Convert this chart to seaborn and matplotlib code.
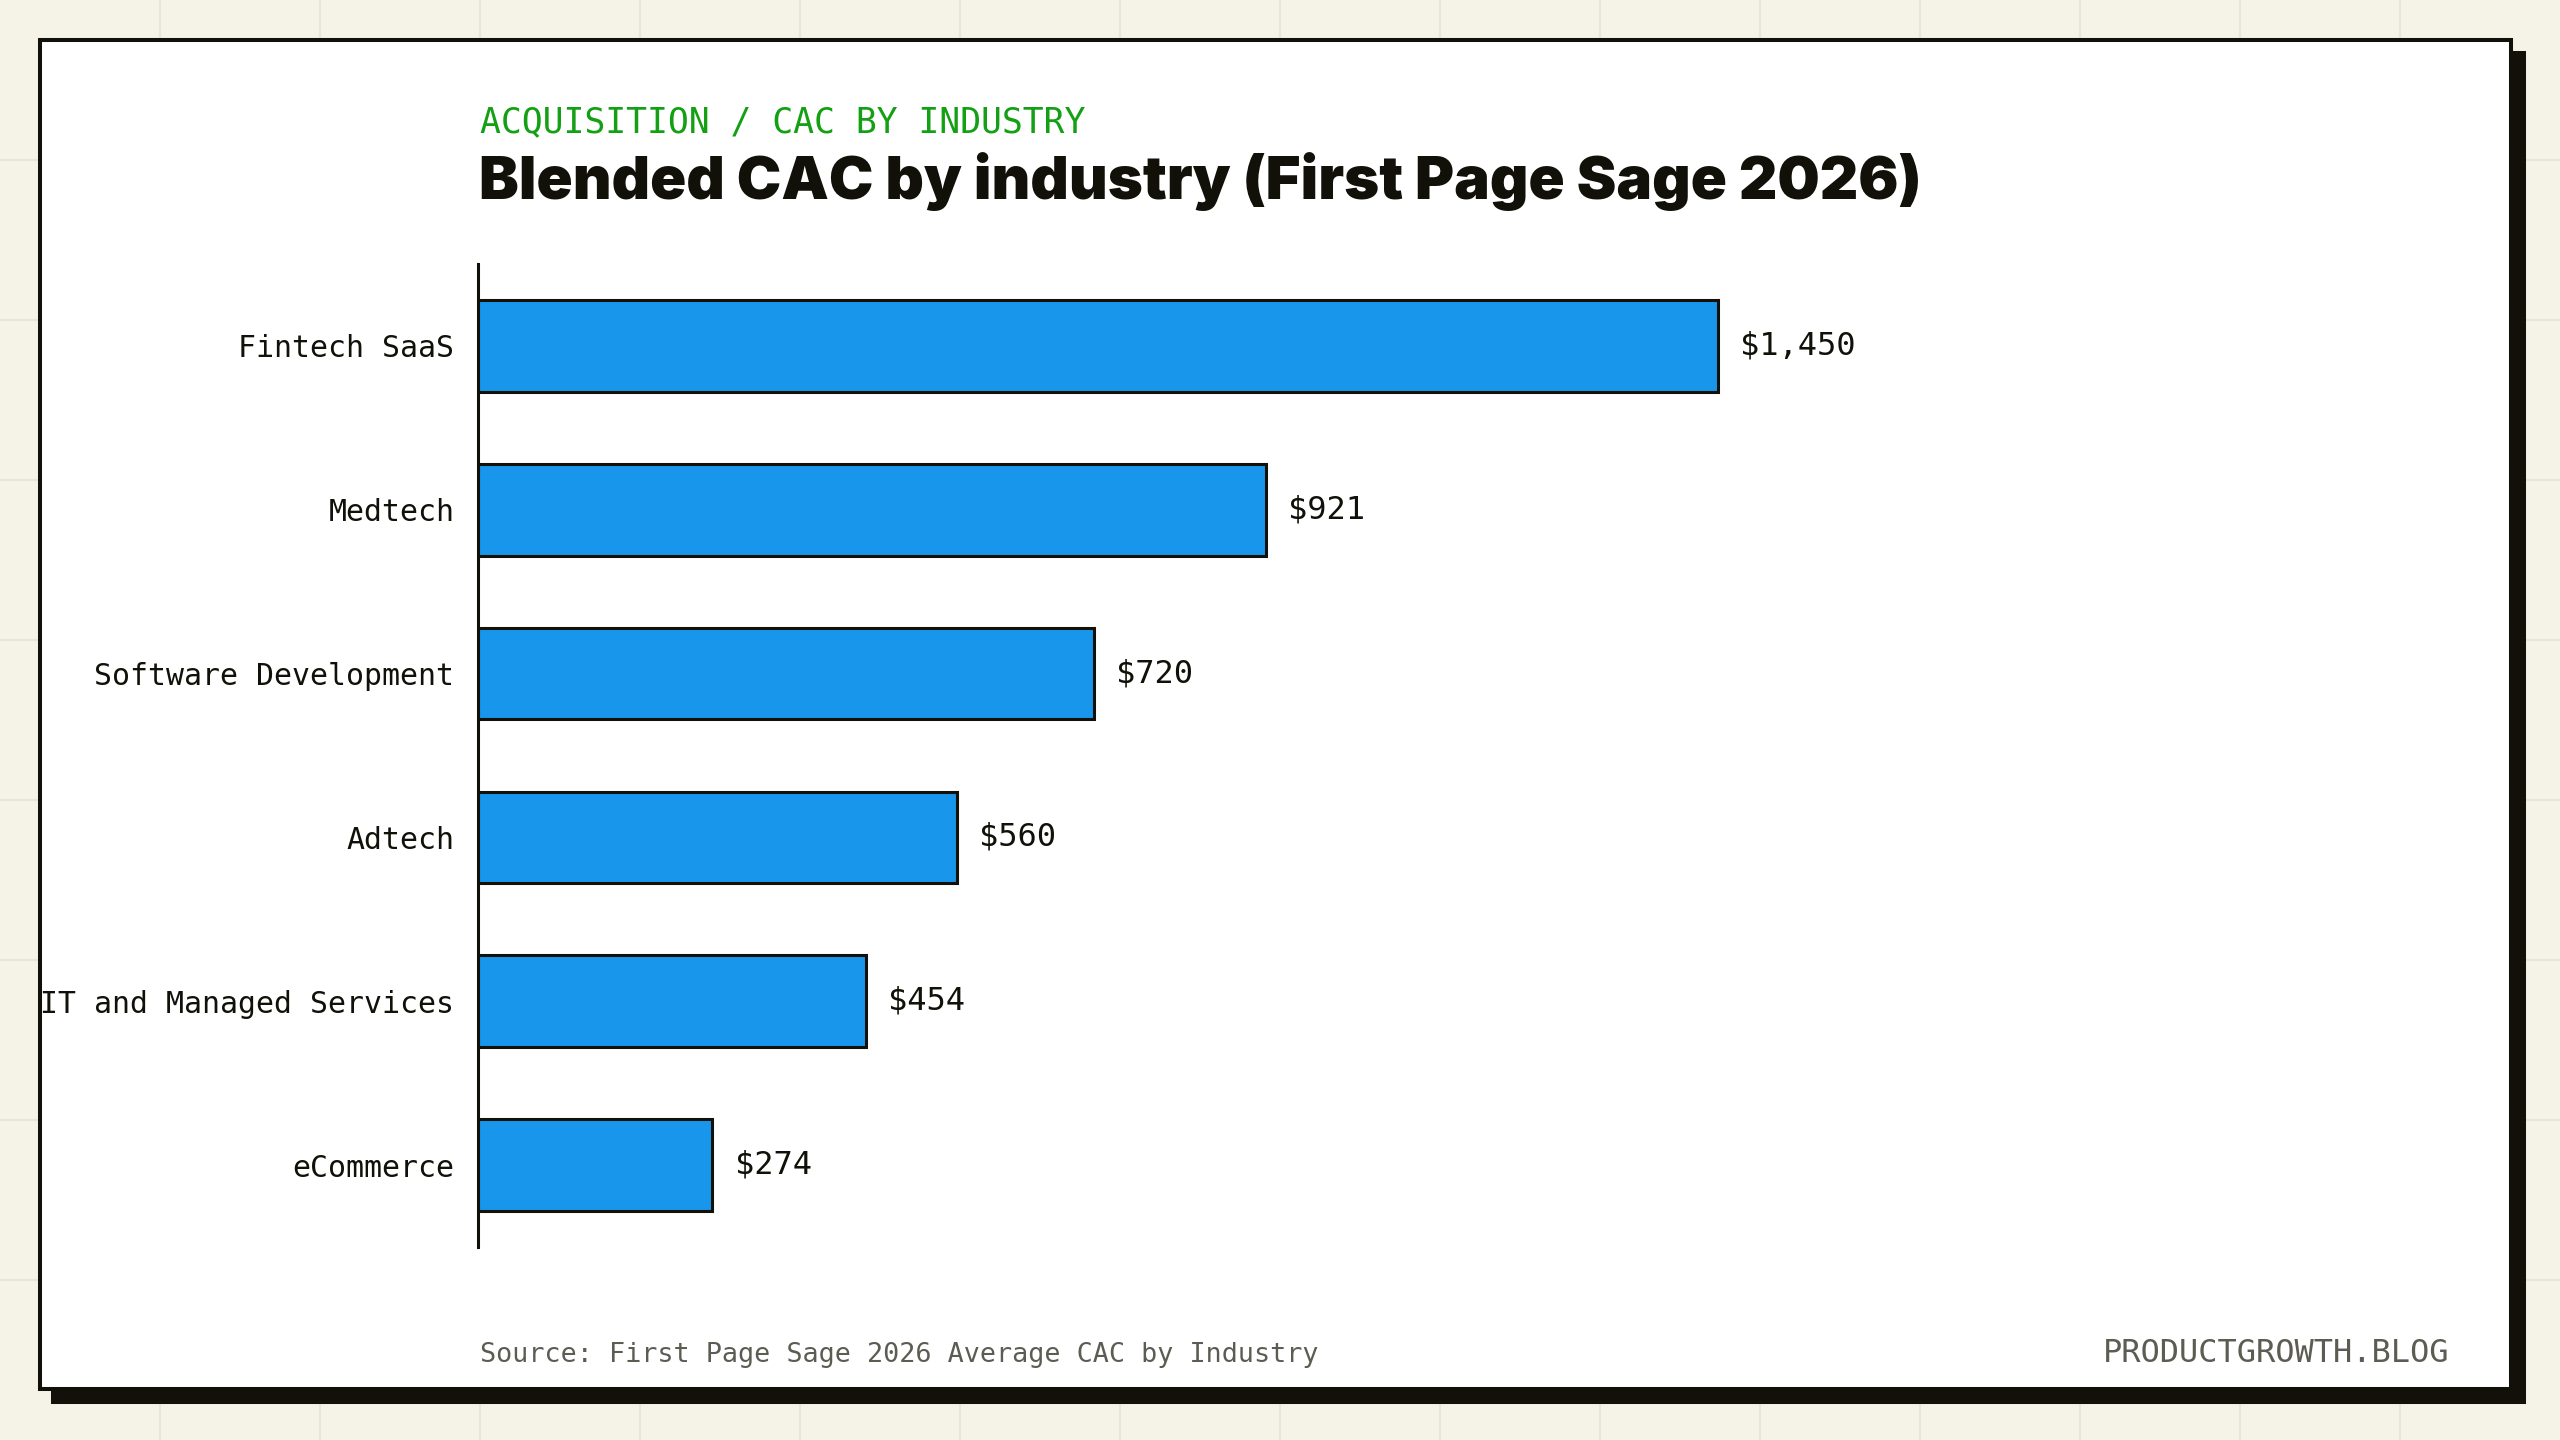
import matplotlib
matplotlib.use("Agg")
import matplotlib.pyplot as plt
import seaborn as sns
from matplotlib.patches import Rectangle
from matplotlib.lines import Line2D

# data
industries = ["Fintech SaaS", "Medtech", "Software Development", "Adtech",
              "IT and Managed Services", "eCommerce"]
cac = [1450, 921, 720, 560, 454, 274]
value_labels = [f"${v:,}" for v in cac]

eyebrow = "ACQUISITION / CAC BY INDUSTRY"
title = "Blended CAC by industry (First Page Sage 2026)"
source = "Source: First Page Sage 2026 Average CAC by Industry"
brand = "PRODUCTGROWTH.BLOG"

BG = "#f5f3e8"
GRIDC = "#e9e6d8"
INK = "#111109"
BLUE = "#1796eb"
GREEN = "#14a014"
MUTED = "#5c5c52"
MONO = "DejaVu Sans Mono"

sns.set_theme(style="white")
plt.rcParams["font.family"] = ["DejaVu Sans"]

W, H = 2560, 1440
fig = plt.figure(figsize=(25.6, 14.4), dpi=100, facecolor=BG)

# background grid
for gx in range(160, W, 160):
    fig.add_artist(Line2D([gx / W, gx / W], [0, 1], transform=fig.transFigure,
                          color=GRIDC, lw=1.5, zorder=-10))
for gy in range(160, H, 160):
    fig.add_artist(Line2D([0, 1], [1 - gy / H, 1 - gy / H], transform=fig.transFigure,
                          color=GRIDC, lw=1.5, zorder=-10))

# card with offset shadow
cx0, cy0, cx1, cy1 = 40, 40, 2511, 1389
fig.add_artist(Rectangle(((cx0 + 13) / W, 1 - (cy1 + 13) / H), (cx1 - cx0) / W, (cy1 - cy0) / H,
                         transform=fig.transFigure, facecolor=INK, edgecolor=INK,
                         lw=2.9, zorder=-5))
fig.add_artist(Rectangle((cx0 / W, 1 - cy1 / H), (cx1 - cx0) / W, (cy1 - cy0) / H,
                         transform=fig.transFigure, facecolor="white", edgecolor=INK,
                         lw=2.9, zorder=-4))

ax = fig.add_axes([478 / W, 1 - 1247 / H, (2462 - 478) / W, (1247 - 264) / H])
ax.set_facecolor("none")

sns.barplot(x=cac, y=industries, orient="h", color=BLUE, saturation=1,
            edgecolor=INK, linewidth=2.2, width=0.56, ax=ax)

ax.bar_label(ax.containers[0], labels=value_labels, padding=16,
             fontsize=23, family=MONO, color=INK)

ax.set_xlim(0, 1450 * 1.6)
ax.set_ylim(5.5, -0.5)
ax.set_xlabel("")
ax.set_ylabel("")
ax.set_xticks([])
ax.tick_params(axis="y", length=0, pad=17, labelsize=21.5, labelcolor=INK)
for lab in ax.get_yticklabels():
    lab.set_family(MONO)
for s in ["top", "right", "bottom"]:
    ax.spines[s].set_visible(False)
ax.spines["left"].set_color(INK)
ax.spines["left"].set_linewidth(2.2)

# header
fig.text(480 / W, 1 - 132 / H, eyebrow, family=MONO, fontsize=25, color=GREEN,
         va="baseline", ha="left")
fig.text(479 / W, 1 - 199 / H, title, family=["Inter", "DejaVu Sans"], fontweight=900,
         fontsize=43, color=INK, va="baseline", ha="left")

# footer
fig.text(480 / W, 1 - 1362 / H, source, family=MONO, fontsize=19.3, color=MUTED,
         va="baseline", ha="left")
fig.text(2449 / W, 1 - 1362 / H, brand, family=MONO, fontsize=23, color=MUTED,
         va="baseline", ha="right")

fig.savefig("out.png", dpi=100, facecolor=BG)
